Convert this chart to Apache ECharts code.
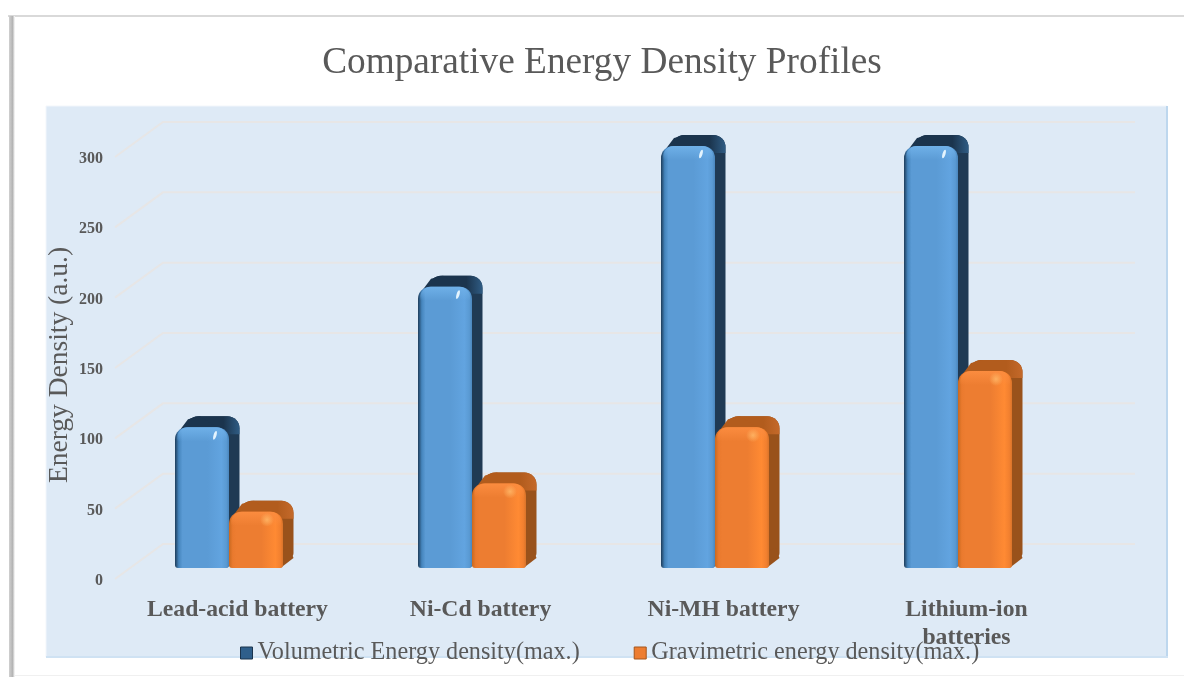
<!DOCTYPE html>
<html>
<head>
<meta charset="utf-8">
<title>Comparative Energy Density Profiles</title>
<script src="https://cdn.jsdelivr.net/npm/echarts@6/dist/echarts.min.js"></script>
<style>
  html, body { margin: 0; padding: 0; background: #fff; }
  #chart { width: 1184px; height: 677px; }
</style>
</head>
<body>
<div id="chart"></div>
<script>
const categories = ['Lead-acid battery', 'Ni-Cd battery', 'Ni-MH battery', 'Lithium-ion\nbatteries'];
const volumetric = [100, 200, 300, 300];
const gravimetric = [40, 60, 100, 140];
const yTicks = [0, 50, 100, 150, 200, 250, 300];

const FONT = '"Liberation Serif", serif';
const TEXT = '#595959';

// depth of the bars and of the back wall, px
const BAR_DEPTH = 11;
const WALL_DX = 48;
const WALL_DY = 35;

const BLUE = {
  side: '#1f3a54', topL: '#1b344d', topR: '#2f5c84',
  face: ['#1d3c5a', '#4585bd', '#5b9bd5', '#5b9bd5', '#62a4e0', '#5a9ad3', '#4a86bd'],
  bevel: '#6fb0e8'
};
const ORANGE = {
  side: '#99521b', topL: '#b25c1d', topR: '#c4692a',
  face: ['#c9691f', '#ea7a2e', '#ed7d31', '#ed7d31', '#ff8a33', '#f2802f', '#d9742a'],
  bevel: '#fb8c3f'
};

function hGrad(colors) {
  const stops = [0, 0.07, 0.14, 0.6, 0.86, 0.95, 1];
  return {
    type: 'linear', x: 0, y: 0, x2: 1, y2: 0,
    colorStops: colors.map((c, i) => ({ offset: stops[i], color: c }))
  };
}

function glint(pal, cx, cy) {
  if (pal === BLUE) {
    return {
      type: 'ellipse',
      shape: { cx: cx, cy: cy, rx: 1.5, ry: 4.5 },
      rotation: -0.3,
      originX: cx,
      originY: cy,
      style: { fill: 'rgba(235,248,255,0.95)' }
    };
  }
  return {
    type: 'circle',
    shape: { cx: cx - 2, cy: cy, r: 7 },
    style: { fill: { type: 'radial', x: 0.5, y: 0.5, r: 0.5, colorStops: [
      { offset: 0, color: 'rgba(255,190,110,0.75)' }, { offset: 1, color: 'rgba(255,190,110,0)' }
    ] } }
  };
}

// one 3D column, barIndex 0 sits left of the split and 1 right of it
function barRenderer(pal, barIndex) {
  return function (params, api) {
    const base = api.coord([api.value(0), 0]);
    const tip = api.coord([api.value(0), api.value(1)]);
    const band = api.size([1, 0])[0];
    const w = band * 0.2222;
    const x0 = base[0] - 8.5 - w + barIndex * w;
    const x1 = x0 + w - 0.5;
    const bottom = base[1] - 11;
    const top = tip[1] - 11;
    const h = bottom - top;
    const d = BAR_DEPTH;
    return {
      type: 'group',
      children: [
        {
          type: 'rect',
          shape: { x: x0 + d, y: top - d, width: w - 0.5, height: h, r: [12, 12, 4, 4] },
          style: { fill: pal.side }
        },
        {
          type: 'rect',
          shape: { x: x0 + d, y: top - d, width: w - 0.5, height: 18, r: [12, 12, 0, 0] },
          style: { fill: { type: 'linear', x: 0, y: 0, x2: 1, y2: 0, colorStops: [
            { offset: 0, color: pal.topL }, { offset: 0.7, color: pal.topL }, { offset: 1, color: pal.topR }
          ] } }
        },
        {
          type: 'polygon',
          shape: { points: [[x0 + 1, top + 8], [x0 + d + 2, top - d + 3], [x0 + d + 14, top - d], [x1, top + 8]] },
          style: { fill: pal.topL }
        },
        {
          type: 'polygon',
          shape: { points: [[x1 - 2, bottom], [x1 + d, bottom - d + 1], [x1 + d - 4, bottom - d - 10], [x1 - 4, bottom - 14]] },
          style: { fill: pal.side }
        },
        {
          type: 'rect',
          shape: { x: x0, y: top, width: w, height: h, r: [12, 12, 3, 3] },
          style: { fill: hGrad(pal.face) }
        },
        {
          type: 'rect',
          shape: { x: x0 + 2, y: top, width: w - 4, height: 14, r: [11, 11, 0, 0] },
          style: { fill: { type: 'linear', x: 0, y: 0, x2: 0, y2: 1, colorStops: [
            { offset: 0, color: pal.bevel }, { offset: 1, color: pal.bevel + '00' }
          ] } }
        },
        glint(pal, x0 + 40, top + 8)
      ]
    };
  };
}

function wallRenderer(params, api) {
  const y = api.coord([0, api.value(1)])[1];
  const sys = params.coordSys;
  const fx = sys.x - 1;
  return {
    type: 'polyline',
    shape: { points: [[fx, y], [fx + WALL_DX, y - WALL_DY], [sys.x + sys.width + 47, y - WALL_DY]] },
    style: { fill: 'none', stroke: '#e7e6e6', lineWidth: 2 }
  };
}

const chart = echarts.init(document.getElementById('chart'));

chart.setOption({
  backgroundColor: '#fff',
  animation: false,
  title: {
    text: 'Comparative Energy Density Profiles',
    left: 597,
    top: 40,
    textAlign: 'center',
    textStyle: { fontFamily: FONT, fontSize: 37.3, fontWeight: 'normal', color: TEXT }
  },
  graphic: [
    { type: 'rect', z: -10, shape: { x: 8, y: 15, width: 1176, height: 2 }, style: { fill: '#d9d9d9' } },
    {
      type: 'rect', z: -10, shape: { x: 9, y: 16, width: 6, height: 661 },
      style: { fill: { type: 'linear', x: 0, y: 0, x2: 1, y2: 0, colorStops: [
        { offset: 0, color: '#d0d0d0' }, { offset: 0.6, color: '#b4b4b4' }, { offset: 1, color: '#ffffff' }
      ] } }
    },
    { type: 'rect', z: -10, shape: { x: 15, y: 675, width: 1169, height: 1 }, style: { fill: '#f0f0f0' } },
    {
      type: 'rect', z: -9, shape: { x: 46, y: 106, width: 1121, height: 551 },
      style: { fill: '#deeaf6', stroke: '#f2f6fb', lineWidth: 1 }
    },
    { type: 'rect', z: -8, shape: { x: 1166, y: 106, width: 2, height: 551 }, style: { fill: '#bdd7ee' } },
    { type: 'rect', z: -8, shape: { x: 46, y: 656, width: 1122, height: 2 }, style: { fill: '#cfe2f3' } }
  ],
  grid: { left: 116, top: 157, width: 972, height: 422 },
  legend: {
    left: 235,
    top: 636,
    itemWidth: 12,
    itemHeight: 12,
    itemGap: 54,
    textStyle: { fontFamily: FONT, fontSize: 24.2, color: TEXT },
    data: [
      { name: 'Volumetric Energy density(max.)', icon: 'rect', itemStyle: { color: '#2f5f8b', borderColor: '#1b344d', borderWidth: 1 } },
      { name: 'Gravimetric energy density(max.)', icon: 'rect', itemStyle: { color: '#ed7d31', borderColor: '#a5561c', borderWidth: 1 } }
    ]
  },
  xAxis: {
    type: 'category',
    data: categories,
    axisLine: { show: false },
    axisTick: { show: false },
    axisLabel: {
      interval: 0,
      margin: 17,
      fontFamily: FONT,
      fontSize: 23.7,
      fontWeight: 'bold',
      color: TEXT,
      lineHeight: 28
    }
  },
  yAxis: {
    type: 'value',
    min: 0,
    max: 300,
    interval: 50,
    name: 'Energy Density (a.u.)',
    nameLocation: 'middle',
    nameMoveOverlap: false,
    nameGap: 42,
    nameTextStyle: { fontFamily: FONT, fontSize: 27.5, color: TEXT, padding: [0, 0, 0, 6] },
    axisLine: { show: false },
    axisTick: { show: false },
    splitLine: { show: false },
    axisLabel: {
      margin: 13,
      formatter: '{t|{value}}',
      rich: { t: { fontFamily: FONT, fontSize: 16, fontWeight: 'bold', color: TEXT, padding: [4, 0, 0, 0] } }
    }
  },
  series: [
    {
      type: 'custom',
      z: 1,
      silent: true,
      renderItem: wallRenderer,
      encode: { x: 0, y: 1 },
      data: yTicks.map(v => [0, v])
    },
    {
      type: 'custom',
      name: 'Volumetric Energy density(max.)',
      z: 2,
      renderItem: barRenderer(BLUE, 0),
      encode: { x: 0, y: 1 },
      itemStyle: { color: '#2f5f8b' },
      data: volumetric.map((v, i) => [i, v])
    },
    {
      type: 'custom',
      name: 'Gravimetric energy density(max.)',
      z: 3,
      renderItem: barRenderer(ORANGE, 1),
      encode: { x: 0, y: 1 },
      itemStyle: { color: '#ed7d31' },
      data: gravimetric.map((v, i) => [i, v])
    }
  ]
});
</script>
</body>
</html>
